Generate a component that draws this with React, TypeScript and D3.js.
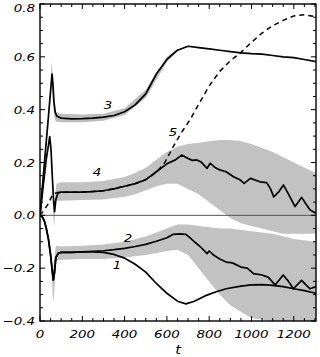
import React from "react";
import * as d3 from "d3";

// ---- data ----
const curve1T = [0, 10, 20, 30, 40, 50, 58, 63, 68, 75, 85, 100, 150, 200, 250, 300, 350, 400, 450, 500, 550, 600, 650, 690, 730, 780, 830, 880, 950, 1000, 1050, 1100, 1150, 1200, 1250, 1305];
const curve1V = [0, -0.005, -0.02, -0.05, -0.09, -0.15, -0.21, -0.245, -0.22, -0.16, -0.145, -0.14, -0.14, -0.138, -0.138, -0.14, -0.148, -0.162, -0.185, -0.215, -0.258, -0.295, -0.325, -0.335, -0.325, -0.305, -0.29, -0.278, -0.268, -0.263, -0.262, -0.265, -0.27, -0.278, -0.285, -0.295];

const curve2T = [0, 10, 20, 30, 40, 50, 58, 63, 68, 75, 85, 100, 150, 200, 250, 300, 350, 400, 450, 500, 550, 600, 630, 660, 690, 710, 730, 760, 790, 800, 820, 850, 880, 910, 950, 980, 1010, 1050, 1080, 1112, 1150, 1175, 1198, 1237, 1260, 1277, 1305];
const curve2V = [0, -0.005, -0.02, -0.05, -0.09, -0.15, -0.21, -0.245, -0.22, -0.16, -0.145, -0.14, -0.14, -0.138, -0.136, -0.134, -0.13, -0.125, -0.118, -0.11, -0.098, -0.085, -0.072, -0.07, -0.072, -0.085, -0.1, -0.12, -0.145, -0.135, -0.15, -0.165, -0.177, -0.18, -0.196, -0.2, -0.221, -0.226, -0.235, -0.264, -0.226, -0.25, -0.278, -0.246, -0.265, -0.278, -0.27];

const curve3T = [0, 20, 40, 50, 57, 61, 66, 72, 80, 100, 150, 200, 250, 300, 350, 400, 450, 500, 550, 600, 650, 700, 750, 800, 850, 900, 950, 1000, 1050, 1100, 1150, 1200, 1250, 1305];
const curve3V = [0, 0.19, 0.375, 0.47, 0.535, 0.5, 0.43, 0.39, 0.375, 0.368, 0.365, 0.366, 0.368, 0.372, 0.378, 0.392, 0.418, 0.46, 0.535, 0.59, 0.625, 0.64, 0.635, 0.63, 0.625, 0.62, 0.615, 0.612, 0.61, 0.605, 0.6, 0.597, 0.59, 0.582];

const curve4T = [0, 15, 30, 40, 46, 52, 58, 64, 69, 75, 85, 100, 150, 200, 250, 300, 350, 400, 450, 500, 550, 600, 640, 670, 700, 720, 740, 760, 790, 805, 830, 850, 880, 915, 945, 965, 995, 1040, 1072, 1090, 1105, 1130, 1151, 1175, 1206, 1237, 1260, 1277, 1305];
const curve4V = [0, 0.11, 0.215, 0.265, 0.298, 0.25, 0.15, 0.06, 0.014, 0.06, 0.085, 0.088, 0.088, 0.088, 0.09, 0.093, 0.1, 0.11, 0.12, 0.135, 0.165, 0.195, 0.21, 0.228, 0.215, 0.208, 0.21, 0.203, 0.178, 0.197, 0.18, 0.172, 0.165, 0.146, 0.135, 0.121, 0.14, 0.127, 0.124, 0.1, 0.07, 0.09, 0.115, 0.08, 0.033, 0.068, 0.04, 0.02, 0.008];

const curve5T = [0, 20, 40, 60, 80, 120, 200, 300, 400, 450, 500, 550, 590, 630, 670, 709, 750, 800, 850, 900, 950, 1000, 1050, 1100, 1150, 1200, 1250, 1305];
const curve5V = [0, 0.02, 0.045, 0.08, 0.086, 0.087, 0.088, 0.093, 0.11, 0.12, 0.135, 0.163, 0.2, 0.26, 0.315, 0.361, 0.42, 0.49, 0.545, 0.585, 0.617, 0.655, 0.69, 0.718, 0.738, 0.755, 0.759, 0.752];

// gray noise envelopes (upper / lower bounds)
const gray3T = [40, 50, 55, 58, 62, 68, 75, 100, 200, 300, 400, 500, 600, 650];
const gray3Hi = [0.38, 0.5, 0.58, 0.56, 0.48, 0.41, 0.39, 0.385, 0.382, 0.385, 0.405, 0.475, 0.6, 0.63];
const gray3Lo = [0.37, 0.46, 0.5, 0.47, 0.42, 0.37, 0.355, 0.352, 0.352, 0.358, 0.38, 0.445, 0.58, 0.62];

const gray4T = [60, 64, 68, 72, 78, 100, 200, 300, 400, 450, 500, 550, 600, 650, 700, 750, 800, 850, 900, 950, 1000, 1050, 1100, 1150, 1200, 1250, 1305];
const gray4Hi = [0.1, 0.06, 0.04, 0.08, 0.12, 0.125, 0.125, 0.13, 0.145, 0.16, 0.18, 0.21, 0.24, 0.26, 0.27, 0.275, 0.28, 0.285, 0.285, 0.28, 0.27, 0.255, 0.24, 0.22, 0.2, 0.18, 0.16];
const gray4Lo = [0.04, -0.02, -0.04, 0.02, 0.055, 0.055, 0.058, 0.06, 0.07, 0.08, 0.095, 0.11, 0.12, 0.12, 0.1, 0.08, 0.05, 0.02, -0.01, -0.03, -0.04, -0.05, -0.06, -0.07, -0.07, -0.07, -0.07];

const gray2T = [55, 60, 64, 68, 74, 80, 100, 200, 300, 400, 500, 600, 650, 700, 750, 800, 850, 900, 1000, 1100, 1200, 1305];
const gray2Hi = [-0.18, -0.2, -0.2, -0.16, -0.12, -0.115, -0.118, -0.115, -0.11, -0.1, -0.08, -0.05, -0.035, -0.035, -0.04, -0.045, -0.05, -0.05, -0.06, -0.07, -0.09, -0.1];
const gray2Lo = [-0.22, -0.3, -0.33, -0.28, -0.18, -0.17, -0.168, -0.165, -0.165, -0.16, -0.15, -0.135, -0.13, -0.15, -0.2, -0.25, -0.3, -0.34, -0.39, -0.4, -0.4, -0.4];

const xTickLabels = [0, 200, 400, 600, 800, 1000, 1200];
const yTickLabels = [-0.4, -0.2, 0.0, 0.2, 0.4, 0.6, 0.8];

const curveLabelText = ["1", "2", "3", "4", "5"];
const curveLabelT = [364, 416, 321, 270, 629];
const curveLabelV = [-0.188, -0.086, 0.418, 0.164, 0.315];

// ---- layout ----
const W = 320;
const H = 357;
const x = d3.scaleLinear().domain([0, 1305]).range([40, 316]);
const y = d3.scaleLinear().domain([-0.4, 0.8]).range([321, 4]);

const FONT = "'DejaVu Sans', sans-serif";

function linePath(ts: number[], vs: number[]) {
  const pts = ts.map((t, i) => [t, vs[i]] as [number, number]);
  return d3
    .line<[number, number]>()
    .x((d) => x(d[0]))
    .y((d) => y(d[1]))(pts) as string;
}

function areaPath(ts: number[], hi: number[], lo: number[]) {
  const idx = ts.map((_, i) => i);
  return d3
    .area<number>()
    .x((i) => x(ts[i]))
    .y0((i) => y(lo[i]))
    .y1((i) => y(hi[i]))(idx) as string;
}

function Label({ px, py, text, anchor, size = 11 }: { px: number; py: number; text: string; anchor: string; size?: number }) {
  return (
    <text
      transform={`translate(${px},${py}) scale(1.22,1)`}
      textAnchor={anchor as any}
      fontFamily={FONT}
      fontStyle="italic"
      fontSize={size}
      fill="#000"
    >
      {text}
    </text>
  );
}

export default function App() {
  const [x0, x1] = x.range();
  const [yb, yt] = y.range();

  const xMinor = d3.range(0, 1305, 50);
  const yMinor = d3.range(-0.4, 0.8001, 0.05);

  const fmtY = (v: number) => (v < 0 ? "\u2212" : "") + Math.abs(v).toFixed(1);

  return (
    <svg
      width={W}
      height={H}
      style={{ position: "absolute", left: 0, top: 0, background: "#fff" }}
    >
      <defs>
        <clipPath id="plot">
          <rect x={x0} y={yt} width={x1 - x0} height={yb - yt} />
        </clipPath>
      </defs>
      <g clipPath="url(#plot)">
        <path d={areaPath(gray3T, gray3Hi, gray3Lo)} fill="#bdbdbd" />
        <path d={areaPath(gray4T, gray4Hi, gray4Lo)} fill="#c2c2c2" />
        <path d={areaPath(gray2T, gray2Hi, gray2Lo)} fill="#c2c2c2" />
        <line x1={x0} x2={x1} y1={y(0)} y2={y(0)} stroke="#555" strokeWidth={1} />
        <path d={linePath(curve5T, curve5V)} fill="none" stroke="#000" strokeWidth={1.5} strokeDasharray="5,4" />
        <path d={linePath(curve1T, curve1V)} fill="none" stroke="#000" strokeWidth={1.7} strokeLinejoin="round" />
        <path d={linePath(curve2T, curve2V)} fill="none" stroke="#000" strokeWidth={1.7} strokeLinejoin="round" />
        <path d={linePath(curve3T, curve3V)} fill="none" stroke="#000" strokeWidth={1.7} strokeLinejoin="round" />
        <path d={linePath(curve4T, curve4V)} fill="none" stroke="#000" strokeWidth={1.7} strokeLinejoin="round" />
      </g>

      {/* ticks */}
      {xMinor.map((t) => {
        const major = t % 200 === 0;
        const len = major ? 5 : 3;
        return (
          <g key={"xt" + t}>
            <line x1={x(t)} x2={x(t)} y1={yb} y2={yb - len} stroke="#000" strokeWidth={1} />
            <line x1={x(t)} x2={x(t)} y1={yt} y2={yt + len} stroke="#000" strokeWidth={1} />
          </g>
        );
      })}
      {yMinor.map((v, i) => {
        const major = i % 4 === 0;
        const len = major ? 5 : 3;
        return (
          <g key={"yt" + i}>
            <line x1={x0} x2={x0 + len} y1={y(v)} y2={y(v)} stroke="#000" strokeWidth={1} />
            <line x1={x1} x2={x1 - len} y1={y(v)} y2={y(v)} stroke="#000" strokeWidth={1} />
          </g>
        );
      })}

      <rect x={x0} y={yt} width={x1 - x0} height={yb - yt} fill="none" stroke="#000" strokeWidth={1.4} />

      {xTickLabels.map((t) => (
        <Label key={"xl" + t} px={x(t)} py={338} text={String(t)} anchor="middle" />
      ))}
      {yTickLabels.map((v) => (
        <Label key={"yl" + v} px={35} py={Math.max(y(v) + 4, 12)} text={fmtY(v)} anchor="end" />
      ))}
      <Label px={(x0 + x1) / 2} py={354} text="t" anchor="middle" size={12} />

      {curveLabelText.map((s, i) => (
        <Label key={"cl" + s} px={x(curveLabelT[i])} py={y(curveLabelV[i]) + 4} text={s} anchor="middle" />
      ))}
    </svg>
  );
}
